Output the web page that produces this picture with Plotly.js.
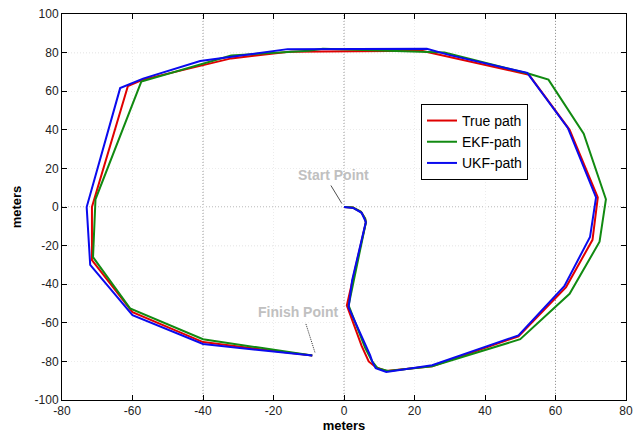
<!DOCTYPE html>
<html>
<head>
<meta charset="utf-8">
<script src="https://cdn.plot.ly/plotly-3.0.1.min.js"></script>
<style>html,body{margin:0;padding:0;background:#fff;}#chart{width:638px;height:435px;}</style>
</head>
<body>
<div id="chart"></div>
<script>
// True path
var trueX = [0, 2.5, 4.8, 6, 6.2, 0.8, 5, 7, 9, 12, 25, 49.5, 63, 70.5, 72, 64, 52.5, 22, -15, -32, -57, -61.3, -71.5, -71.5, -60, -40, -9];
var trueY = [0, -0.3, -2.5, -6, -8, -51, -72, -80, -83, -85, -82.5, -67, -41.5, -17, 5, 40, 68.5, 81, 80.5, 77, 66, 62.7, 0, -27.5, -54.5, -70, -77];
// EKF path
var ekfX = [0, 2.5, 4.8, 6, 6.2, 1.3, 6, 8, 9.5, 12.5, 25, 50, 64, 72.5, 74.3, 68, 58, 52.5, 28.5, -6, -10, -32, -57.5, -70.5, -71.2, -60.7, -40, -9];
var ekfY = [0, -0.3, -2.5, -6, -8, -51, -73, -80, -83.5, -85, -82.5, -68.5, -45, -18, 4, 38, 66, 69, 80, 82, 81, 78.5, 65, 4, -26, -52.5, -68.5, -77];
// UKF path
var ukfX = [0, 2.6, 5, 6.2, 2.3, 1.3, 7.4, 8, 9, 12, 25, 49.5, 62.5, 69.8, 71.5, 63.5, 52, 30, 23.5, -16, -40.8, -57, -63.5, -73, -72, -60, -40, -9];
var ukfY = [0, -0.5, -3, -7.8, -38, -52, -76.7, -80, -83.5, -85.5, -82, -66.5, -41, -15.5, 5, 41, 69.5, 78.7, 82, 81.8, 75.6, 66.5, 61.6, 0, -30, -56, -71, -77];

var seriesNames = ['True path', 'EKF-path', 'UKF-path'];
var xTicks = [-80, -60, -40, -20, 0, 20, 40, 60, 80];
var yTicks = [-100, -80, -60, -40, -20, 0, 20, 40, 60, 80, 100];
// grid lines that show clearly in the reference (others are very faint)
var strongGridX = [-40, 0, 60];
var strongGridY = [80, 0, -20];

var traces = [
  {x: trueX, y: trueY, name: seriesNames[0], mode: 'lines', line: {color: '#e00000', width: 2}},
  {x: ekfX, y: ekfY, name: seriesNames[1], mode: 'lines', line: {color: '#118a11', width: 2}},
  {x: ukfX, y: ukfY, name: seriesNames[2], mode: 'lines', line: {color: '#0a0aee', width: 2}}
];

var fnt = 'Arial, "Liberation Sans", sans-serif';
var axisCommon = {
  showline: true, linecolor: '#000', linewidth: 1, mirror: 'ticks',
  ticks: 'inside', ticklen: 5, tickcolor: '#000',
  showgrid: true, gridcolor: '#ececec', griddash: '1px,2px', gridwidth: 1,
  zeroline: false, tickfont: {family: fnt, size: 12, color: '#222'}
};

var shapes = [];
strongGridX.forEach(function (v) {
  shapes.push({type: 'line', xref: 'x', yref: 'paper', x0: v, x1: v, y0: 0, y1: 1,
               layer: 'below', line: {color: '#999', width: 1, dash: '1px,2px'}});
});
strongGridY.forEach(function (v) {
  shapes.push({type: 'line', xref: 'paper', yref: 'y', x0: 0, x1: 1, y0: v, y1: v,
               layer: 'below', line: {color: '#999', width: 1, dash: '1px,2px'}});
});
// dotted leader for the finish label
shapes.push({type: 'line', xref: 'x', yref: 'y', x0: -10.8, y0: -60.6, x1: -8.2, y1: -75.6,
             layer: 'above', line: {color: '#333', width: 1, dash: '1px,1px'}});

var layout = {
  width: 638, height: 435,
  margin: {l: 62, r: 12, t: 14, b: 35},
  paper_bgcolor: '#fff', plot_bgcolor: '#fff',
  showlegend: true,
  legend: {x: 0.6365, y: 0.767, xanchor: 'left', yanchor: 'top', bgcolor: '#fff',
           bordercolor: '#000', borderwidth: 1, font: {family: fnt, size: 14, color: '#000'},
           tracegroupgap: 0},
  xaxis: Object.assign({}, axisCommon, {
    range: [-80, 80], tickvals: xTicks, ticktext: xTicks.map(String),
    title: {text: '<b>meters</b>', font: {family: fnt, size: 13, color: '#000'}, standoff: 2}
  }),
  yaxis: Object.assign({}, axisCommon, {
    range: [-100, 100], tickvals: yTicks, ticktext: yTicks.map(String),
    title: {text: '<b>meters</b>', font: {family: fnt, size: 13, color: '#000'}, standoff: 10}
  }),
  shapes: shapes,
  annotations: [
    {x: -3.1, y: 16.6, xref: 'x', yref: 'y', text: '<b>Start Point</b>', showarrow: false,
     font: {family: fnt, size: 14, color: '#c0c0c0'}},
    {x: 0, y: 0, xref: 'x', yref: 'y', text: '', showarrow: true,
     arrowhead: 0, arrowwidth: 0.8, arrowcolor: '#222', ax: -14, ay: -23, standoff: 4},
    {x: -13, y: -54.4, xref: 'x', yref: 'y', text: '<b>Finish Point</b>', showarrow: false,
     font: {family: fnt, size: 14, color: '#c0c0c0'}}
  ]
};

Plotly.newPlot('chart', traces, layout, {displayModeBar: false, staticPlot: true});
</script>
</body>
</html>
